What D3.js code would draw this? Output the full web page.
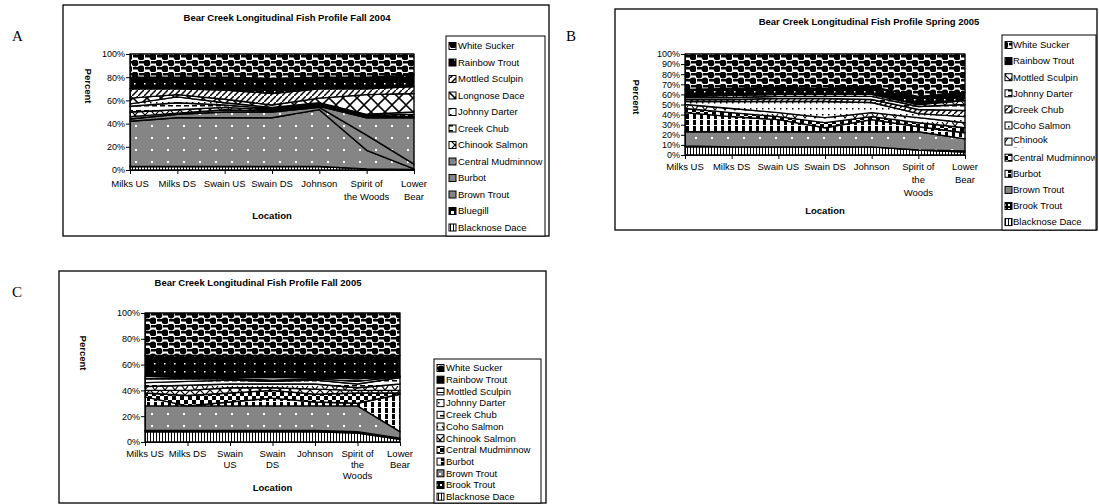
<!DOCTYPE html>
<html>
<head>
<meta charset="utf-8">
<script src="https://cdn.jsdelivr.net/npm/d3@7"></script>
<style>
	body { margin: 0; background: #fff; }
	svg { display: block; font-family: Arial, 'Liberation Sans', sans-serif; }
</style>
</head>
<body>
<svg id="chart-svg" width="1099" height="504"></svg>
<script>
// Data: 100% stacked fish counts per location (percent)
const LOCATIONS = [ 'Milks US', 'Milks DS', 'Swain US', 'Swain DS', 'Johnson', 'Spirit of the Woods', 'Lower Bear' ];

const LABELS_FALL04 = [ [ 'Milks US' ], [ 'Milks DS' ], [ 'Swain US' ], [ 'Swain DS' ], [ 'Johnson' ], [ 'Spirit of', 'the Woods' ], [ 'Lower', 'Bear' ] ];
const LABELS_SPRING05 = [ [ 'Milks US' ], [ 'Milks DS' ], [ 'Swain US' ], [ 'Swain DS' ], [ 'Johnson' ], [ 'Spirit of', 'the', 'Woods' ], [ 'Lower', 'Bear' ] ];
const LABELS_FALL05 = [ [ 'Milks US' ], [ 'Milks DS' ], [ 'Swain', 'US' ], [ 'Swain', 'DS' ], [ 'Johnson' ], [ 'Spirit of', 'the', 'Woods' ], [ 'Lower', 'Bear' ] ];

const TICKS_20 = [ 0, 0.2, 0.4, 0.6, 0.8, 1 ];
const TICKS_10 = [ 0, 0.1, 0.2, 0.3, 0.4, 0.5, 0.6, 0.7, 0.8, 0.9, 1 ];

// legend order (top of stack first)
const SPECIES_FALL04 = [
	'White Sucker', 'Rainbow Trout', 'Mottled Sculpin', 'Longnose Dace', 'Johnny Darter', 'Creek Chub',
	'Chinook Salmon', 'Central Mudminnow', 'Burbot', 'Brown Trout', 'Bluegill', 'Blacknose Dace'
];
const VALUES_FALL04 = [
	[ 20, 20, 20, 21, 20, 20, 18 ],
	[ 10, 10, 11, 13, 10, 10, 10 ],
	[ 8, 5, 8, 10, 8, 5, 6 ],
	[ 5, 2, 3, 2, 4, 17, 16 ],
	[ 2, 5, 2, 1, 1, 1, 2 ],
	[ 5, 6, 2, 1, 1, 1, 2 ],
	[ 4, 3, 2, 1, 1, 1, 1 ],
	[ 2, 1, 2, 1, 1, 15, 40 ],
	[ 2, 3, 5, 5, 2, 13, 4 ],
	[ 39, 42, 42, 42, 49, 16, 0.5 ],
	[ 0, 0, 0, 0, 0, 0, 0.5 ],
	[ 3, 3, 3, 3, 3, 1, 0 ]
];
const PATTERNS_FALL04 = [
	'p-circles', 'p-blackdots', 'p-diag', 'p-diamond', 'p-dots', 'p-dash',
	'p-lattice', 'p-gray', 'p-gray', 'p-gray', 'p-bluegill', 'p-stripes'
];

const SPECIES_SPRING05 = [
	'White Sucker', 'Rainbow Trout', 'Mottled Sculpin', 'Johnny Darter', 'Creek Chub', 'Coho Salmon',
	'Chinook Salmon', 'Central Mudminnow', 'Burbot', 'Brown Trout', 'Brook Trout', 'Blacknose Dace'
];
const VALUES_SPRING05 = [
	[ 35, 34, 33, 34, 32, 42, 38 ],
	[ 7, 7, 7, 6, 8, 8, 8 ],
	[ 1, 2, 2, 2, 2, 2, 4 ],
	[ 2, 2, 2, 2, 3, 3, 6 ],
	[ 2, 2, 3, 3, 3, 4, 6 ],
	[ 3, 7, 11, 16, 10, 4, 6 ],
	[ 4, 4, 4, 5, 4, 5, 5 ],
	[ 4, 4, 3, 5, 3, 4, 5 ],
	[ 19, 15, 12, 4, 12, 5, 6 ],
	[ 14, 15, 15, 15, 15, 18, 12 ],
	[ 1, 0, 0, 0, 0, 0, 1 ],
	[ 8, 8, 8, 8, 8, 5, 3 ]
];
const PATTERNS_SPRING05 = [
	'p-circles', 'p-blackdots', 'p-lattice', 'p-dash', 'p-diag', 'p-dots',
	'p-vee', 'p-checker', 'p-bars', 'p-gray', 'p-brook', 'p-stripes'
];

const SPECIES_FALL05 = [
	'White Sucker', 'Rainbow Trout', 'Mottled Sculpin', 'Johnny Darter', 'Creek Chub', 'Coho Salmon',
	'Chinook Salmon', 'Central Mudminnow', 'Burbot', 'Brown Trout', 'Brook Trout', 'Blacknose Dace'
];
const VALUES_FALL05 = [
	[ 33, 33, 33, 33, 33, 33, 33 ],
	[ 16, 17, 17, 17, 17, 18, 16 ],
	[ 2, 1, 1, 2, 1, 2, 0 ],
	[ 3, 2, 1, 1, 1, 2, 1 ],
	[ 3, 3, 3, 2, 3, 3, 5 ],
	[ 3, 4, 3, 3, 4, 2, 5 ],
	[ 2, 4, 4, 2, 4, 2, 2 ],
	[ 3, 8, 7, 6, 6, 8, 1 ],
	[ 7, 0, 3, 6, 3, 2, 29 ],
	[ 19, 19, 19, 19, 19, 20, 5 ],
	[ 1, 1, 1, 1, 1, 1, 1 ],
	[ 8, 8, 8, 8, 8, 7, 2 ]
];
const PATTERNS_FALL05 = [
	'p-circles', 'p-blackdots', 'p-hlines', 'p-dots', 'p-dash', 'p-vee',
	'p-lattice', 'p-checker', 'p-bars', 'p-gray', 'p-brook', 'p-stripes'
];

const svg = d3.select('#chart-svg');
const defs = svg.append('defs');

function pattern(id, w, h, bg) {
	const p = defs.append('pattern').attr('id', id).attr('patternUnits', 'userSpaceOnUse').attr('width', w).attr('height', h);
	p.append('rect').attr('width', w).attr('height', h).attr('fill', bg);
	return p;
}

// black & white fills, roughly like the scanned Excel patterns
let p = pattern('p-gray', 16, 12, '#858585');
p.append('rect').attr('x', 7).attr('y', 5).attr('width', 2).attr('height', 2).attr('fill', '#fff');

p = pattern('p-stripes', 3, 8, '#fff');
p.append('rect').attr('width', 1).attr('height', 8).attr('fill', '#000');

p = pattern('p-bars', 7, 6, '#fff');
p.append('rect').attr('width', 3).attr('height', 5).attr('fill', '#000');

p = pattern('p-checker', 8, 8, '#fff');
p.append('rect').attr('width', 4).attr('height', 4).attr('fill', '#000');
p.append('rect').attr('x', 4).attr('y', 4).attr('width', 4).attr('height', 4).attr('fill', '#000');

p = pattern('p-lattice', 10, 10, '#fff');
p.append('path').attr('d', 'M0,0L10,10M10,0L0,10').attr('stroke', '#000').attr('stroke-width', 1.2);

p = pattern('p-diamond', 14, 14, '#fff');
p.append('path').attr('d', 'M0,7L7,0L14,7L7,14Z').attr('fill', 'none').attr('stroke', '#000').attr('stroke-width', 1.6);

p = pattern('p-vee', 10, 8, '#fff');
p.append('path').attr('d', 'M2,2L5,6L8,2').attr('fill', 'none').attr('stroke', '#000').attr('stroke-width', 1.2);

p = pattern('p-dash', 8, 5, '#fff');
p.append('rect').attr('width', 5).attr('height', 1.5).attr('fill', '#000');

p = pattern('p-hlines', 4, 4, '#fff');
p.append('rect').attr('width', 4).attr('height', 1).attr('fill', '#000');

p = pattern('p-dots', 6, 6, '#fff');
p.append('rect').attr('width', 1.5).attr('height', 1.5).attr('fill', '#000');

p = pattern('p-diag', 6, 6, '#fff');
p.append('path').attr('d', 'M0,6L6,0').attr('stroke', '#000').attr('stroke-width', 1.5);

p = pattern('p-blackdots', 10, 8, '#000');
p.append('rect').attr('x', 4).attr('y', 3).attr('width', 1.5).attr('height', 1.5).attr('fill', '#fff');

p = pattern('p-circles', 12, 12, '#fff');
p.append('circle').attr('cx', 3).attr('cy', 3).attr('r', 3.4).attr('fill', '#000');
p.append('circle').attr('cx', 9).attr('cy', 9).attr('r', 3.4).attr('fill', '#000');
p.append('rect').attr('x', 7).attr('y', 1).attr('width', 5).attr('height', 2.5).attr('fill', '#000');
p.append('rect').attr('x', 1).attr('y', 7).attr('width', 5).attr('height', 2.5).attr('fill', '#000');

p = pattern('p-brook', 4, 4, '#000');
p.append('rect').attr('width', 2).attr('height', 2).attr('fill', '#fff');

p = pattern('p-bluegill', 6, 6, '#000');
p.append('rect').attr('x', 1).attr('y', 1).attr('width', 3).attr('height', 3).attr('fill', '#fff');

function drawChart(cfg) {
	const g = svg.append('g');
	const fr = cfg.frame;

	g.append('text').attr('x', cfg.letter.x).attr('y', cfg.letter.y)
		.style('font-family', "'Liberation Serif', 'Times New Roman', serif").style('font-size', '15px')
		.text(cfg.letter.text);

	g.append('rect')
		.attr('x', fr.x0).attr('y', fr.y0).attr('width', fr.x1 - fr.x0).attr('height', fr.y1 - fr.y0)
		.attr('fill', '#fff').attr('stroke', '#000').attr('stroke-width', 1.3);

	g.append('text').attr('x', cfg.title.x).attr('y', cfg.title.y).attr('text-anchor', 'middle')
		.style('font-size', '9.5px').style('font-weight', 'bold').text(cfg.title.text);

	const plot = cfg.plot;
	const xScale = d3.scalePoint().domain(LOCATIONS).range([ plot.left, plot.right ]);
	const yScale = d3.scaleLinear().domain([ 0, 1 ]).range([ plot.bottom, plot.top ]);

	// build the table from the species rows
	const table = LOCATIONS.map((loc, i) => {
		const row = { loc: loc };
		cfg.species.forEach((s, j) => (row[s] = cfg.values[j][i]));
		return row;
	});
	const fillOf = {};
	cfg.species.forEach((s, j) => (fillOf[s] = 'url(#' + cfg.patterns[j] + ')'));
	const keys = cfg.species.slice().reverse(); // bottom of stack first
	const series = d3.stack().keys(keys).offset(d3.stackOffsetExpand)(table);
	const area = d3.area().x((d) => xScale(d.data.loc)).y0((d) => yScale(d[0])).y1((d) => yScale(d[1]));

	g.append('g').selectAll('path').data(series).join('path')
		.attr('d', area)
		.attr('fill', (d) => fillOf[d.key])
		.attr('stroke', '#000').attr('stroke-width', 1.4).attr('stroke-linejoin', 'round');

	const yAxis = d3.axisLeft(yScale).tickValues(cfg.yTicks).tickFormat(d3.format('.0%')).tickSize(4).tickSizeOuter(0);
	const yG = g.append('g').attr('transform', 'translate(' + plot.left + ',0)').call(yAxis);
	yG.attr('font-family', null);
	yG.selectAll('text').style('font-size', '9px').attr('x', -5);

	const xAxis = d3.axisBottom(xScale).tickFormat('').tickSize(4).tickSizeOuter(0);
	g.append('g').attr('transform', 'translate(0,' + plot.bottom + ')').call(xAxis);

	const lab = g.append('g').style('font-size', '9.5px').attr('text-anchor', 'middle');
	LOCATIONS.forEach((loc, i) => {
		cfg.labels[i].forEach((line, k) => {
			lab.append('text').attr('x', xScale(loc)).attr('y', cfg.labelY + k * cfg.lineH).text(line);
		});
	});

	g.append('text').attr('x', (plot.left + plot.right) / 2).attr('y', cfg.locationY).attr('text-anchor', 'middle')
		.style('font-size', '9.5px').style('font-weight', 'bold').text('Location');

	g.append('text').attr('transform', 'translate(' + cfg.percent.x + ',' + cfg.percent.y + ') rotate(90)')
		.attr('text-anchor', 'middle').style('font-size', '9.5px').style('font-weight', 'bold').text('Percent');

	// legend
	const lg = cfg.legend;
	const legendG = g.append('g');
	legendG.append('rect')
		.attr('x', lg.x0).attr('y', lg.y0).attr('width', lg.x1 - lg.x0).attr('height', lg.y1 - lg.y0)
		.attr('fill', '#fff').attr('stroke', '#000').attr('stroke-width', 1);
	const clipId = 'clip-' + cfg.letter.text;
	defs.append('clipPath').attr('id', clipId).append('rect')
		.attr('x', lg.x0 + 1).attr('y', lg.y0 + 1).attr('width', lg.x1 - lg.x0 - 2).attr('height', lg.y1 - lg.y0 - 2);
	const items = legendG.append('g').attr('clip-path', 'url(#' + clipId + ')');
	cfg.species.forEach((s, i) => {
		const cy = lg.first + i * lg.step;
		items.append('rect').attr('x', lg.iconX).attr('y', cy - 3.5).attr('width', 7).attr('height', 7)
			.attr('fill', fillOf[s]).attr('stroke', '#000').attr('stroke-width', 1);
		if (cfg.wrap && cfg.wrap.includes(s)) {
			// long name wraps, its second line is cut off by the entry box
			const words = s.split(' ');
			const cid = clipId + '-' + i;
			defs.append('clipPath').attr('id', cid).append('rect')
				.attr('x', lg.x0).attr('y', cy - 9).attr('width', lg.x1 - lg.x0).attr('height', 15);
			const w = items.append('g').attr('clip-path', 'url(#' + cid + ')').style('font-size', lg.font);
			w.append('text').attr('x', lg.textX).attr('y', cy + 1).text(words[0]);
			w.append('text').attr('x', lg.textX).attr('y', cy + 10).style('font-size', '7px').text(words[1]);
		} else {
			items.append('text').attr('x', lg.textX).attr('y', cy + 3.3).style('font-size', lg.font).text(s);
		}
	});
}

drawChart({
	letter: { x: 12, y: 41, text: 'A' },
	frame: { x0: 63, y0: 5, x1: 549, y1: 236 },
	title: { x: 287, y: 21, text: 'Bear Creek Longitudinal Fish Profile Fall 2004' },
	plot: { left: 130, right: 414, top: 54, bottom: 170 },
	yTicks: TICKS_20,
	species: SPECIES_FALL04,
	values: VALUES_FALL04,
	patterns: PATTERNS_FALL04,
	labels: LABELS_FALL04,
	labelY: 187,
	lineH: 13,
	locationY: 219,
	percent: { x: 85, y: 86 },
	legend: { x0: 446, y0: 36, x1: 545, y1: 236, first: 46, step: 16.5, iconX: 449, textX: 458, font: '9.5px' }
});

drawChart({
	letter: { x: 566, y: 41, text: 'B' },
	frame: { x0: 615, y0: 9, x1: 1097, y1: 230 },
	title: { x: 869, y: 25, text: 'Bear Creek Longitudinal Fish Profile Spring 2005' },
	plot: { left: 685, right: 965, top: 54, bottom: 155 },
	yTicks: TICKS_10,
	species: SPECIES_SPRING05,
	values: VALUES_SPRING05,
	patterns: PATTERNS_SPRING05,
	labels: LABELS_SPRING05,
	labelY: 170,
	lineH: 13,
	locationY: 214,
	percent: { x: 633, y: 97 },
	legend: { x0: 1002, y0: 35, x1: 1096, y1: 230, first: 45, step: 16.1, iconX: 1005, textX: 1013, font: '9.5px' },
	wrap: [ 'Chinook Salmon' ]
});

drawChart({
	letter: { x: 12, y: 297, text: 'C' },
	frame: { x0: 59, y0: 271, x1: 546, y1: 503 },
	title: { x: 258, y: 286, text: 'Bear Creek Longitudinal Fish Profile Fall 2005' },
	plot: { left: 145, right: 400, top: 313, bottom: 442 },
	yTicks: TICKS_20,
	species: SPECIES_FALL05,
	values: VALUES_FALL05,
	patterns: PATTERNS_FALL05,
	labels: LABELS_FALL05,
	labelY: 457,
	lineH: 11,
	locationY: 491,
	percent: { x: 80, y: 353 },
	legend: { x0: 434, y0: 359, x1: 541, y1: 503, first: 368, step: 11.7, iconX: 437, textX: 446, font: '9.5px' }
});
</script>
</body>
</html>
